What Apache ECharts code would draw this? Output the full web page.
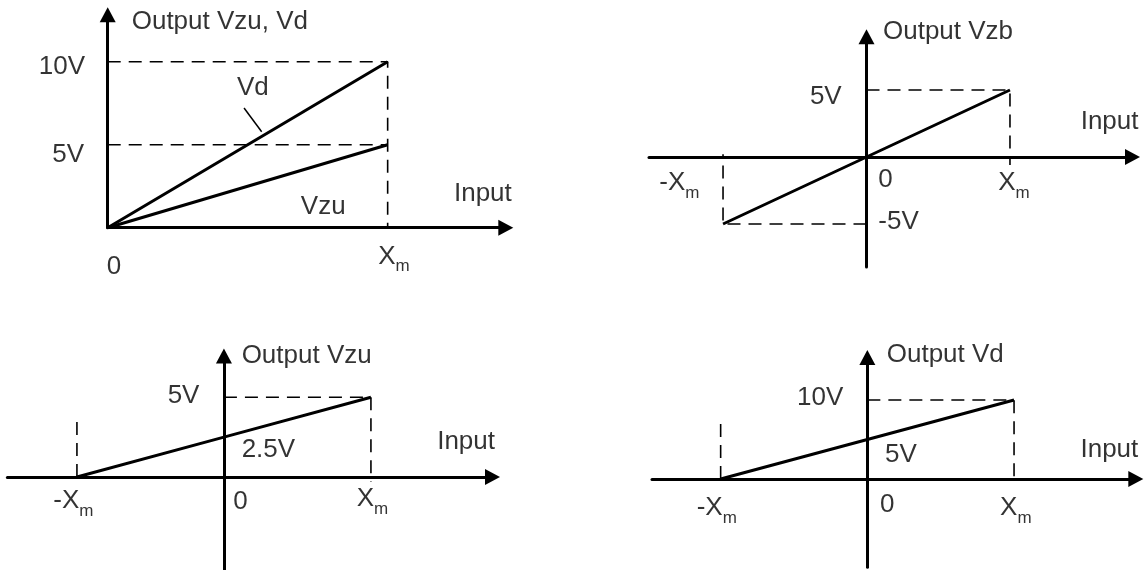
<!DOCTYPE html>
<html>
<head>
<meta charset="utf-8">
<script src="https://cdn.jsdelivr.net/npm/echarts@6/dist/echarts.min.js"></script>
<style>
  html, body { margin: 0; padding: 0; background: #fff; }
  #chart { width: 1147px; height: 570px; }
</style>
</head>
<body>
<div id="chart"></div>
<script>
// input is given in units of Xm, outputs in volts

// top left: Vzu and Vd, input 0 .. Xm
const inputA = [0, 1];
const vzuA = [0, 5];
const vdA = [0, 10];
const vdLeaderA = [[0.487, 7.21], [0.55, 5.78]];

// top right: Vzb, input -Xm .. Xm
const inputB = [-1, 0, 1];
const vzbB = [-5, 0, 5];

// bottom left: Vzu, input -Xm .. Xm
const inputC = [-1, 0, 1];
const vzuC = [0, 2.5, 5];

// bottom right: Vd, input -Xm .. Xm
const inputD = [-1, 0, 1];
const vdD = [0, 5, 10];

const FONT = 'Liberation Sans, Arial, sans-serif';
const XM = '{x|X}{m|m}';
const NXM = '{x|-X}{m|m}';

function pairs(xs, ys) {
  return xs.map((x, i) => [x, ys[i]]);
}

// axis extents (how far the arrows reach), per panel
const ext = {
  A: { x: [0, 1.422], y: [0, 12.83], grid: { left: 107.7, top: 14.8, width: 398.1, height: 212.9 } },
  B: { x: [-1.516, 1.854], y: [-8.21, 8.97], grid: { left: 649, top: 36.8, width: 483.5, height: 230.2 } },
  C: { x: [-1.473, 1.827], y: [-5.8, 7.58], grid: { left: 7.4, top: 356.1, width: 485.1, height: 213.3 } },
  D: { x: [-1.468, 1.830], y: [-11.18, 15.38], grid: { left: 652, top: 357.5, width: 483.8, height: 209.8 } }
};
const panels = ['A', 'B', 'C', 'D'];

function axis(range) {
  return {
    type: 'value',
    min: range[0],
    max: range[1],
    axisLine: {
      show: true,
      onZero: true,
      symbol: ['none', 'triangle'],
      symbolSize: [16, 15],
      lineStyle: { color: '#000', width: 3 }
    },
    axisTick: { show: false },
    axisLabel: { show: false },
    splitLine: { show: false }
  };
}

function solid(i, data, width) {
  return {
    type: 'line', xAxisIndex: i, yAxisIndex: i, data: data,
    symbol: 'none', silent: true,
    lineStyle: { color: '#000', width: width || 3 }
  };
}

function dashed(i, data) {
  return {
    type: 'line', xAxisIndex: i, yAxisIndex: i, data: data,
    symbol: 'none', silent: true,
    lineStyle: { color: '#000', width: 1.6, type: [13, 8] }
  };
}

function txt(x, y, text, align, dx, dy) {
  return { value: [x, y], label: { formatter: text, align: align, offset: [dx, dy] } };
}

function texts(i, items) {
  return {
    type: 'scatter', xAxisIndex: i, yAxisIndex: i, data: items,
    symbolSize: 0, silent: true,
    label: {
      show: true, position: 'inside', verticalAlign: 'middle',
      color: '#000', fontFamily: FONT, fontSize: 26, lineHeight: 26,
      rich: {
        x: { fontFamily: FONT, fontSize: 26, lineHeight: 26, color: '#000' },
        m: { fontFamily: FONT, fontSize: 17, lineHeight: 17, padding: [20, 0, 0, 0], color: '#000' }
      }
    }
  };
}

const A = ext.A, B = ext.B, C = ext.C, D = ext.D;

const series = [
  // top left
  dashed(0, [[0, vdA[1]], [inputA[1], vdA[1]], [inputA[1], 0]]),
  dashed(0, [[0, vzuA[1]], [inputA[1], vzuA[1]]]),
  solid(0, pairs(inputA, vdA)),
  solid(0, pairs(inputA, vzuA)),
  solid(0, vdLeaderA, 1.5),
  texts(0, [
    txt(0, A.y[1], 'Output Vzu, Vd', 'left', 24, 7),
    txt(A.x[1], 0, 'Input', 'right', 6, -34),
    txt(0, 0, '0', 'left', -1, 39),
    txt(inputA[1], 0, XM, 'left', -9.4, 29),
    txt(0, vdA[1], vdA[1] + 'V', 'right', -22.7, 5),
    txt(0, vzuA[1], vzuA[1] + 'V', 'right', -23.7, 10),
    txt(vdLeaderA[0][0], vdLeaderA[0][1], 'Vd', 'center', 8.8, -20),
    txt(inputA[1], 0, 'Vzu', 'center', -64.4, -21)
  ]),

  // top right
  dashed(1, [[0, vzbB[2]], [inputB[2], vzbB[2]], [inputB[2], -0.6]]),
  dashed(1, [[0, vzbB[0]], [inputB[0], vzbB[0]], [inputB[0], 0.2]]),
  solid(1, pairs(inputB, vzbB)),
  texts(1, [
    txt(0, B.y[1], 'Output Vzb', 'left', 16.5, -4.5),
    txt(B.x[1], 0, 'Input', 'right', 6, -35),
    txt(0, vzbB[2], vzbB[2] + 'V', 'right', -24.8, 6.7),
    txt(0, vzbB[0], vzbB[0] + 'V', 'left', 11.8, -1.7),
    txt(0, 0, '0', 'left', 11.8, 23),
    txt(inputB[2], 0, XM, 'left', -11.7, 26.3),
    txt(inputB[0], 0, NXM, 'left', -63.7, 26.3)
  ]),

  // bottom left
  dashed(2, [[0, vzuC[2]], [inputC[2], vzuC[2]], [inputC[2], -0.3]]),
  dashed(2, [[inputC[0], 0], [inputC[0], 3.6]]),
  solid(2, pairs(inputC, vzuC)),
  texts(2, [
    txt(0, C.y[1], 'Output Vzu', 'left', 17.7, -0.7),
    txt(C.x[1], 0, 'Input', 'right', 2.5, -35),
    txt(0, vzuC[2], vzuC[2] + 'V', 'right', -24.5, -1.3),
    txt(0, vzuC[1], vzuC[1] + 'V', 'left', 17.7, 13),
    txt(0, 0, '0', 'left', 9.3, 25),
    txt(inputC[2], 0, XM, 'left', -14.3, 22.3),
    txt(inputC[0], 0, NXM, 'left', -23.7, 24)
  ]),

  // bottom right
  dashed(3, [[0, vdD[2]], [inputD[2], vdD[2]], [inputD[2], 0]]),
  dashed(3, [[inputD[0], 0], [inputD[0], 7.4]]),
  solid(3, pairs(inputD, vdD)),
  texts(3, [
    txt(0, D.y[1], 'Output Vd', 'left', 19.4, -2.5),
    txt(D.x[1], 0, 'Input', 'right', 2.5, -29),
    txt(0, vdD[2], vdD[2] + 'V', 'right', -24, -1.7),
    txt(0, vdD[1], vdD[1] + 'V', 'left', 17.7, 15.5),
    txt(0, 0, '0', 'left', 12.7, 26),
    txt(inputD[2], 0, XM, 'left', -14, 29.3),
    txt(inputD[0], 0, NXM, 'left', -24, 29)
  ])
];

const chart = echarts.init(document.getElementById('chart'));
chart.setOption({
  animation: false,
  backgroundColor: '#fff',
  grid: panels.map(p => Object.assign({ outerBoundsMode: 'none', containLabel: false }, ext[p].grid)),
  xAxis: panels.map((p, i) => Object.assign(axis(ext[p].x), { gridIndex: i })),
  yAxis: panels.map((p, i) => Object.assign(axis(ext[p].y), { gridIndex: i })),
  series: series
});
</script>
</body>
</html>
